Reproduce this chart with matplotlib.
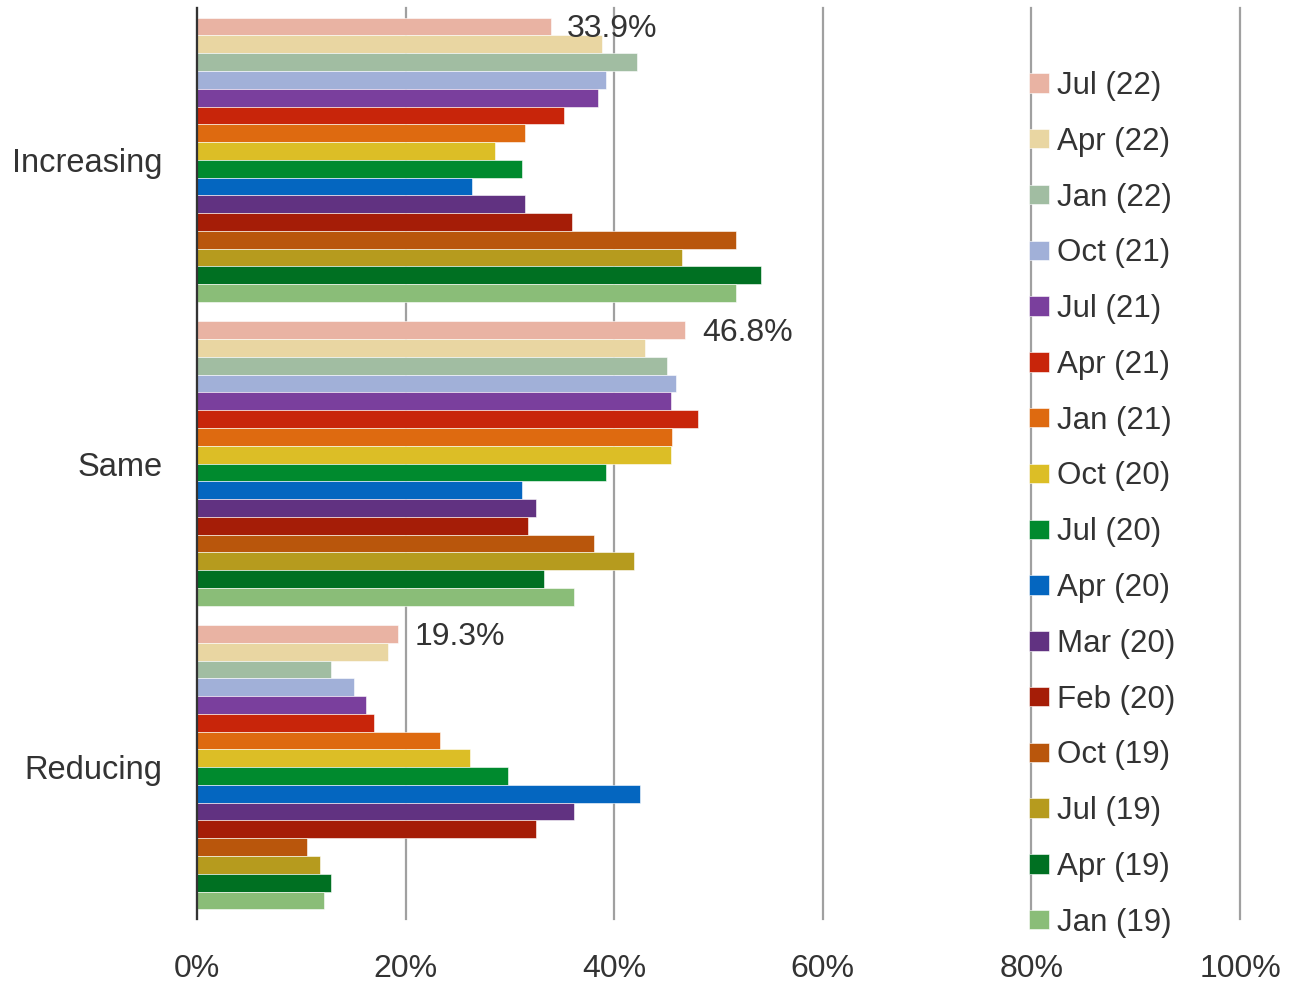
import matplotlib
matplotlib.use("Agg")
import matplotlib.pyplot as plt
import numpy as np

plt.rcParams["font.family"] = ["Liberation Sans", "DejaVu Sans"]

# data (percent)
categories = ["Increasing", "Same", "Reducing"]
series = ["Jul (22)", "Apr (22)", "Jan (22)", "Oct (21)", "Jul (21)", "Apr (21)",
          "Jan (21)", "Oct (20)", "Jul (20)", "Apr (20)", "Mar (20)", "Feb (20)",
          "Oct (19)", "Jul (19)", "Apr (19)", "Jan (19)"]
increasing = [33.9, 38.8, 42.2, 39.2, 38.4, 35.2, 31.4, 28.6, 31.2, 26.4, 31.4, 36.0, 51.7, 46.5, 54.1, 51.7]
same = [46.8, 43.0, 45.1, 45.9, 45.4, 48.0, 45.5, 45.4, 39.2, 31.2, 32.5, 31.7, 38.1, 41.9, 33.3, 36.1]
reducing = [19.3, 18.3, 12.8, 15.1, 16.2, 17.0, 23.3, 26.2, 29.8, 42.5, 36.1, 32.5, 10.5, 11.8, 12.8, 12.2]
colors = ["#E9B3A3", "#E9D6A2", "#A1BDA2", "#A1B0D8", "#7A3F9D", "#C8250A",
          "#DE6A10", "#DCBE26", "#008A2E", "#0466C0", "#613281", "#A51D07",
          "#B9560C", "#B69B1E", "#007022", "#8ABD78"]
xticks = [0, 20, 40, 60, 80, 100]

TXT = "#333333"
values = np.array([increasing, same, reducing])  # rows = categories
n = len(series)
h = 0.936 / n

fig = plt.figure(figsize=(12.99, 9.83), dpi=100)
ax = fig.add_axes([197 / 1299, 64 / 983, 1043 / 1299, 911 / 983])

cpos = np.arange(len(categories))
for i, (name, col) in enumerate(zip(series, colors)):
    ax.barh(cpos + (i - (n - 1) / 2) * h, values[:, i], height=h, color=col,
            edgecolor="white", linewidth=0.4, label=name, zorder=2)

# only the latest wave gets a value label
for j in range(len(categories)):
    v = values[j, 0]
    ax.annotate(f"{v:.1f}%", (v, cpos[j] - (n - 1) / 2 * h), xytext=(12, -2),
                textcoords="offset points", va="center", ha="left",
                fontsize=23, color=TXT, zorder=3)

ax.set_xlim(0, 100)
ax.set_ylim(2.5, -0.5)
ax.set_xticks(xticks)
ax.set_xticklabels([f"{t}%" for t in xticks])
ax.set_yticks(cpos)
ax.set_yticklabels(categories)
ax.tick_params(axis="x", length=0, pad=25, labelsize=23, labelcolor=TXT)
ax.tick_params(axis="y", length=0, pad=25, labelsize=23.5, labelcolor=TXT)
ax.xaxis.grid(True, color="#A0A0A0", linewidth=1.6, zorder=1)
for gl in ax.get_xgridlines():
    gl.set_clip_on(False)
ax.set_axisbelow(True)
for s in ["top", "right", "bottom"]:
    ax.spines[s].set_visible(False)
ax.spines["left"].set_color("#333333")
ax.spines["left"].set_linewidth(1.6)
ax.spines["left"].set_zorder(4)

leg = ax.legend(loc="upper left", bbox_to_anchor=(1029 / 1299, 1 - 71 / 983),
                bbox_transform=fig.transFigure, frameon=False, fontsize=22.5,
                handlelength=0.64, handleheight=0.58, handletextpad=0.26,
                labelspacing=0.825, borderpad=0, borderaxespad=0)
for t in leg.get_texts():
    t.set_color(TXT)

fig.savefig("out.png", dpi=100)
